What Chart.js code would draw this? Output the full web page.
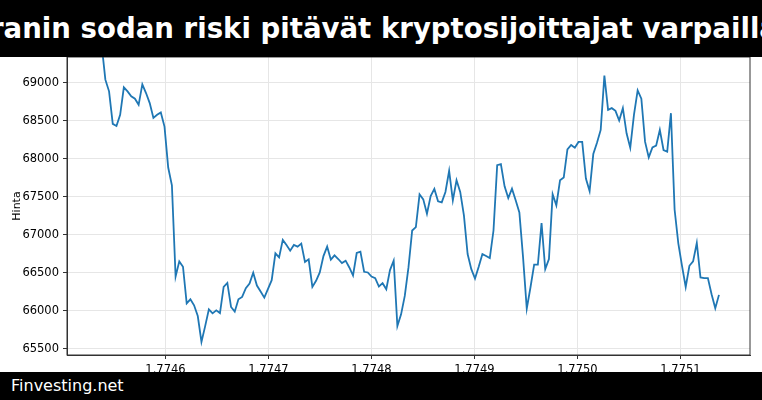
<!DOCTYPE html>
<html><head><meta charset="utf-8">
<script src="https://cdn.jsdelivr.net/npm/chart.js@4/dist/chart.umd.min.js"></script>
<style>
html,body{margin:0;padding:0;background:#fff;overflow:hidden;}
#wrap{position:absolute;left:0;top:0;width:762px;height:400px;}
#title{position:absolute;left:0;top:0;width:762px;height:57px;background:#000;color:#fff;font:bold 27.6px "DejaVu Sans";white-space:nowrap;display:flex;justify-content:center;align-items:center;overflow:hidden;z-index:2;}
#title span{position:relative;left:17px;}
#foot{position:absolute;left:0;top:372px;width:762px;height:28px;background:#000;color:#fff;font:16px "DejaVu Sans";line-height:28px;padding-left:11px;box-sizing:border-box;z-index:2;}
</style></head><body>
<div id="wrap"><canvas id="c" width="762" height="400"></canvas></div>
<div id="title"><span>Iranin sodan riski pitävät kryptosijoittajat varpaillaan</span></div>
<div id="foot">Finvesting.net</div>
<script>
const startTime = 1774538058;
const endTime = 1775137379;
const prices = [69500,69044,68890,68462,68435,68581,68943,68890,68824,68793,68713,68982,68868,68735,68541,68581,68612,68426,67888,67654,
66454,66653,66582,66101,66154,66075,65934,65594,65801,66022,65969,66009,65973,66317,66370,66053,65991,66154,66185,66300,
66361,66503,66335,66256,66176,66291,66406,66759,66706,66935,66869,66794,66869,66847,66887,66644,66679,66317,66397,66507,
66723,66847,66675,66732,66684,66631,66662,66573,66467,66763,66781,66516,66507,66454,66432,66322,66366,66286,66538,66662,
65801,65956,66198,66573,67059,67103,67535,67469,67279,67513,67606,67443,67429,67566,67844,67456,67720,67566,67257,66750,
66551,66428,66582,66750,66723,66697,67059,67919,67932,67641,67487,67610,67456,67297,66706,66031,66309,66609,66609,67156,
66551,66684,67535,67390,67720,67756,68126,68184,68148,68224,68224,67743,67579,68065,68215,68382,69097,68647,68669,68634,
68506,68669,68338,68148,68581,68903,68793,68228,68021,68153,68175,68382,68118,68096,68603,67332,66891,66595,66317,66595,
66653,66895,66441,66432,66432,66220,66035,66212];
const times = prices.map((_, i) => startTime + i * (endTime - startTime) / (prices.length - 1));
const xTicks = [1774600000,1774700000,1774800000,1774900000,1775000000,1775100000];
const yTicks = [65500,66000,66500,67000,67500,68000,68500,69000];

new Chart(document.getElementById('c'), {
  type: 'line',
  data: { datasets: [{ data: times.map((t, i) => ({x: t, y: prices[i]})), borderColor: '#1f77b4', borderWidth: 1.8, pointRadius: 0, tension: 0 }] },
  options: {
    responsive: false, animation: false,
    layout: { padding: { top: 57, right: 12, left: 7, bottom: 0 } },
    plugins: { legend: { display: false }, tooltip: { enabled: false } },
    scales: {
      x: { type: 'linear', min: 1774504400, max: 1775167500,
        afterBuildTicks: a => { a.ticks = xTicks.map(v => ({value: v})); },
        afterFit: a => { a.height = 45; },
        ticks: { callback: v => (v / 1e9).toFixed(4), color: '#000', font: { family: 'DejaVu Sans', size: 11.5 }, maxRotation: 0, padding: 4 },
        grid: { color: '#e6e6e6', tickLength: 4, tickColor: '#333' },
        border: { color: '#333', width: 1 } },
      y: { min: 65421, max: 69342,
        afterBuildTicks: a => { a.ticks = yTicks.map(v => ({value: v})); },
        afterFit: a => { a.width = 60; },
        title: { display: true, text: 'Hinta', color: '#000', font: { family: 'DejaVu Sans', size: 11 } },
        ticks: { callback: v => String(v), color: '#000', font: { family: 'DejaVu Sans', size: 11.5 }, padding: 4 },
        grid: { color: '#e6e6e6', tickLength: 4, tickColor: '#333' },
        border: { color: '#333', width: 1 } }
    }
  },
  plugins: [{ id: 'frame', afterDraw(ch) { const a = ch.chartArea, c = ch.ctx; c.save(); c.strokeStyle = '#333'; c.lineWidth = 1; c.strokeRect(a.left, a.top, a.right - a.left, a.bottom - a.top); c.restore(); } }]
});
</script></body></html>
